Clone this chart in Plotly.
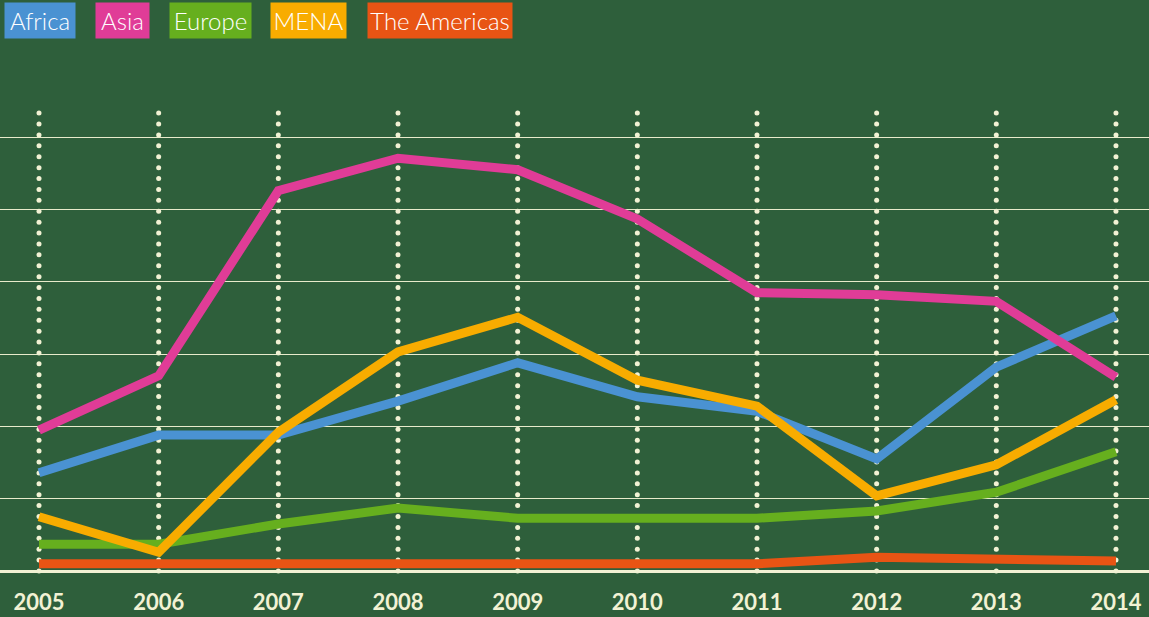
import numpy as np
import plotly.graph_objects as go

years = [2005, 2006, 2007, 2008, 2009, 2010, 2011, 2012, 2013, 2014]
africa = [1.36, 1.88, 1.88, 2.35, 2.88, 2.41, 2.21, 1.55, 2.82, 3.53]
asia = [1.95, 2.70, 5.26, 5.71, 5.55, 4.87, 3.85, 3.82, 3.73, 2.68]
europe = [0.37, 0.37, 0.65, 0.87, 0.73, 0.73, 0.73, 0.83, 1.09, 1.65]
mena = [0.75, 0.26, 1.92, 3.03, 3.51, 2.64, 2.28, 1.04, 1.47, 2.37]
americas = [0.10, 0.10, 0.10, 0.10, 0.10, 0.10, 0.10, 0.19, 0.15, 0.14]

series_names = ["Africa", "Asia", "Europe", "MENA", "The Americas"]
series_values = [africa, asia, europe, mena, americas]
colors = ["#4A92D2", "#E03C97", "#66AF1E", "#F8AC00", "#E85414"]

BG = "#2E5F3B"
CREAM = "#F2F2D4"

fig = go.Figure()

# dotted vertical guides
dot_y = np.arange(0, 43) * 0.1508
for yr in years:
    fig.add_trace(go.Scatter(
        x=[yr] * len(dot_y), y=dot_y, mode="markers",
        marker=dict(size=5, color=CREAM), hoverinfo="skip", showlegend=False))

for name, vals, col in zip(series_names, series_values, colors):
    fig.add_trace(go.Scatter(
        x=years, y=vals, mode="lines", name=name,
        line=dict(color=col, width=9), showlegend=False))

# legend boxes
boxes = [(40, 70), (122.5, 53), (210.5, 81), (308.5, 75), (440, 144)]
for (cx, w), name, col in zip(boxes, series_names, colors):
    fig.add_annotation(
        xref="paper", yref="paper", x=cx / 1149, y=(575 - 20.5) / 475,
        xanchor="center", yanchor="middle", text=name, showarrow=False,
        bgcolor=col, width=w, height=35, borderpad=0,
        font=dict(family="Lato", size=24, color="white", weight=300))

fig.update_layout(
    width=1149, height=617,
    paper_bgcolor=BG, plot_bgcolor=BG,
    margin=dict(l=0, r=0, t=100, b=42),
    xaxis=dict(range=[2004.674, 2014.276], tickvals=years, ticktext=[str(y) for y in years],
               showgrid=False, zeroline=False, showline=False,
               tickfont=dict(family="Lato", size=22, color=CREAM, weight="bold"),
               ticks="", ticklabelstandoff=12),
    yaxis=dict(range=[-0.055, 6.515], tickvals=[1, 2, 3, 4, 5, 6], showticklabels=False,
               showgrid=True, gridcolor="#E8EBCB", gridwidth=1.3,
               zeroline=True, zerolinecolor=CREAM, zerolinewidth=3),
)

fig.write_html("out.html", config={"displayModeBar": False},
               post_script="document.body.style.margin='0';document.body.style.overflow='hidden';")
